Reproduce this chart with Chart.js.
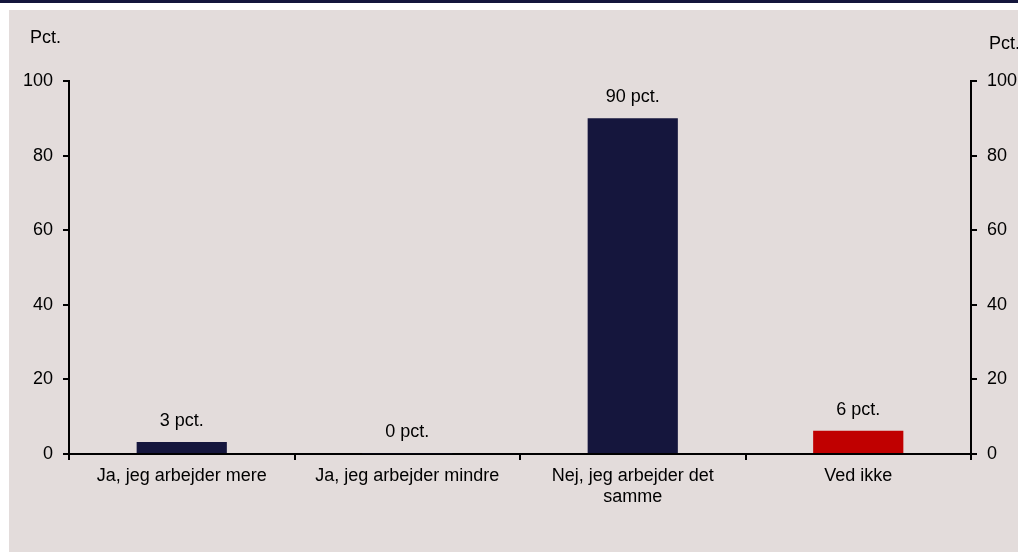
<!DOCTYPE html>
<html>
<head>
<meta charset="utf-8">
<script src="https://cdn.jsdelivr.net/npm/chart.js@4"></script>
<style>
  html, body { margin: 0; padding: 0; background: #ffffff; width: 1018px; height: 552px; overflow: hidden; }
  #band { position: absolute; left: 0; top: 0; width: 1018px; height: 3px; background: #14163c; }
  #wrap { position: absolute; left: 9px; top: 10px; width: 1009px; height: 542px; background: #e3dcdb; }
</style>
</head>
<body>
<div id="band"></div>
<div id="wrap"><canvas id="chart" width="1009" height="542"></canvas></div>
<script>
// kategorier og værdier
const categories = [
  'Ja, jeg arbejder mere',
  'Ja, jeg arbejder mindre',
  ['Nej, jeg arbejder det', 'samme'],
  'Ved ikke'
];
const values = [3.2, 0.2, 90, 6.2];
const valueLabels = ['3 pct.', '0 pct.', '90 pct.', '6 pct.'];
const barColors = ['#15163d', '#15163d', '#15163d', '#c00000'];
const yTicks = [0, 20, 40, 60, 80, 100];

const FONT = 'Liberation Sans, Arial, sans-serif';

// tekst over søjlerne
const barLabels = {
  id: 'barLabels',
  afterDatasetsDraw(chart) {
    const ctx = chart.ctx;
    const meta = chart.getDatasetMeta(0);
    ctx.save();
    ctx.font = '18px ' + FONT;
    ctx.fillStyle = '#000';
    ctx.textAlign = 'center';
    ctx.textBaseline = 'middle';
    meta.data.forEach((bar, i) => {
      ctx.fillText(valueLabels[i], bar.x, bar.y - 21);
    });
    ctx.restore();
  }
};

// "Pct." over begge akser
const axisTitles = {
  id: 'axisTitles',
  afterDraw(chart) {
    const ctx = chart.ctx;
    ctx.save();
    ctx.font = '18px ' + FONT;
    ctx.fillStyle = '#000';
    ctx.textBaseline = 'alphabetic';
    ctx.textAlign = 'left';
    ctx.fillText('Pct.', 21, 33);
    ctx.fillText('Pct.', 980, 39);
    ctx.restore();
  }
};

const tickFont = { family: FONT, size: 18 };

const yScale = (pos, w) => ({
  position: pos,
  min: 0,
  max: 100,
  afterBuildTicks(scale) { scale.ticks = yTicks.map(v => ({ value: v })); },
  afterFit(scale) { scale.width = w; },
  grid: { drawOnChartArea: false, drawTicks: true, tickLength: 6, color: '#000', lineWidth: 2 },
  border: { display: true, color: '#000', width: 2 },
  ticks: { color: '#000', font: tickFont, padding: 10 }
});

new Chart(document.getElementById('chart'), {
  type: 'bar',
  data: {
    labels: categories,
    datasets: [{
      data: values,
      backgroundColor: barColors,
      borderWidth: 0,
      categoryPercentage: 1,
      barPercentage: 0.4,
      yAxisID: 'y'
    }]
  },
  options: {
    responsive: false,
    animation: false,
    layout: { padding: { top: 71, left: 0, right: 0, bottom: 0 } },
    plugins: {
      legend: { display: false },
      tooltip: { enabled: false }
    },
    scales: {
      x: {
        afterFit(scale) { scale.height = 98; },
        grid: { offset: true, drawOnChartArea: false, drawTicks: true, tickLength: 6, color: '#000', lineWidth: 2 },
        border: { display: true, color: '#000', width: 2 },
        ticks: { color: '#000', font: { family: FONT, size: 18, lineHeight: 1.15 }, padding: 6, maxRotation: 0, autoSkip: false }
      },
      y: yScale('left', 60),
      y2: yScale('right', 47)
    }
  },
  plugins: [barLabels, axisTitles]
});
</script>
</body>
</html>
